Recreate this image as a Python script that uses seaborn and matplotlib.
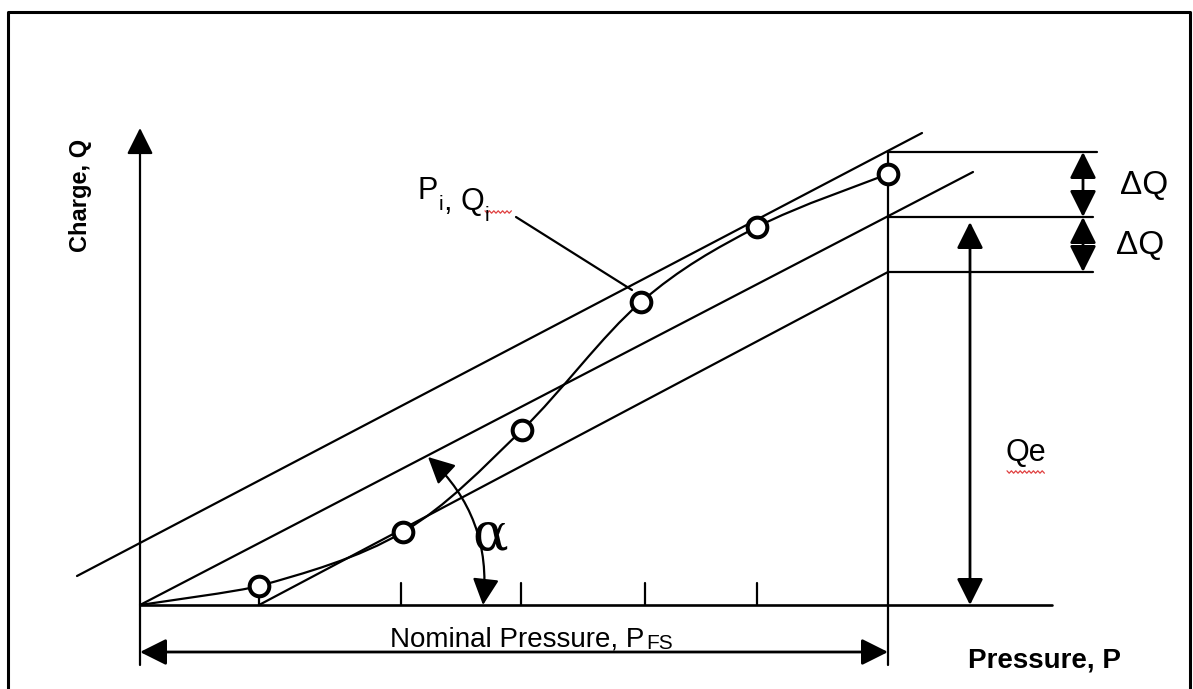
import numpy as np
import pandas as pd
import matplotlib
matplotlib.use("Agg")
import matplotlib.pyplot as plt
from matplotlib.path import Path
from matplotlib.patches import PathPatch, FancyArrowPatch
import seaborn as sns

# ---------------- data (diagram units: origin = (0, 0)) ----------------
P_points = [119, 263, 382, 501, 617, 748]        # calibration points P_i
Q_points = [19, 73, 175, 303, 378, 431]           # charge Q_i
P_ticks = [119, 261, 381, 505, 617]               # pressure steps
P_FS = 748                                        # nominal (full scale) pressure
fit_P = [0, 833]; fit_Q = [0, 433]                # best straight line
upper_P = [-63, 782]; upper_Q = [29, 472]         # upper tolerance line
lower_P = [119, 748]; lower_Q = [0, 333]          # lower tolerance line
Q_upper, Q_end, Q_lower = 453, 388, 333           # levels at P_FS

sns.set_theme(style="white")
plt.rcParams["font.family"] = ["Liberation Sans", "DejaVu Sans"]
plt.rcParams["text.color"] = "black"

fig = plt.figure(figsize=(11.93, 6.89), dpi=100)
ax = fig.add_axes([0, 0, 1, 1])
ax.set_xlim(-140, 1053)
ax.set_ylim(-84, 605)
ax.axis("off")

K = "black"
LW = 1.6

# frame
ax.plot([-132, -132, 1050, 1050], [-84, 593, 593, -84], color=K, lw=2.2)

# axes of the diagram
ax.add_patch(FancyArrowPatch((0, -60), (0, 477), arrowstyle="-|>,head_length=0.9,head_width=0.45",
                             mutation_scale=18, lw=LW, color=K, shrinkA=0, shrinkB=0))
ax.plot([0, 912], [0, 0], color=K, lw=LW + 0.3)

# ticks
for p in P_ticks:
    ax.plot([p, p], [0, 22], color=K, lw=LW)

# straight lines
df_lines = pd.DataFrame({
    "P": fit_P + upper_P + lower_P,
    "Q": fit_Q + upper_Q + lower_Q,
    "line": ["fit"] * 2 + ["upper"] * 2 + ["lower"] * 2,
})
sns.lineplot(data=df_lines, x="P", y="Q", units="line", estimator=None, color=K, lw=LW,
             ax=ax, legend=False, sort=False)

# full-scale vertical and horizontal level lines
ax.plot([P_FS, P_FS], [-60, Q_upper], color=K, lw=LW)
ax.plot([P_FS, 957], [Q_upper, Q_upper], color=K, lw=LW)
ax.plot([P_FS, 953], [Q_end, Q_end], color=K, lw=LW)
ax.plot([P_FS, 953], [Q_lower, Q_lower], color=K, lw=LW)

# smooth characteristic curve through the points (Catmull-Rom -> Bezier)
cx = [0] + P_points
cy = [0] + Q_points
pts = np.column_stack([cx, cy]).astype(float)
ext = np.vstack([2 * pts[0] - pts[1], pts, pts[-1]])
verts = [tuple(pts[0])]
codes = [Path.MOVETO]
for i in range(1, len(ext) - 2):
    p0, p1, p2, p3 = ext[i - 1], ext[i], ext[i + 1], ext[i + 2]
    tension = 6.0 if i > 1 else 14.0
    c1 = p1 + (p2 - p0) / tension
    c2 = p2 - (p3 - p1) / tension
    verts += [tuple(c1), tuple(c2), tuple(p2)]
    codes += [Path.CURVE4] * 3
ax.add_patch(PathPatch(Path(verts, codes), fill=False, lw=LW, color=K))

# measurement points
sns.scatterplot(x=P_points, y=Q_points, marker="o", s=200, facecolor="white",
                edgecolor=K, linewidth=2.9, ax=ax, zorder=5)

# double arrows
def darrow(a, b, lw=2.0):
    ax.add_patch(FancyArrowPatch(a, b, arrowstyle="<|-|>,head_length=0.9,head_width=0.45",
                                 mutation_scale=18, lw=lw, color=K, shrinkA=0, shrinkB=0))

darrow((943, Q_upper), (943, Q_end))
darrow((943, Q_end), (943, Q_lower))
darrow((830, Q_end - 5), (830, 0))
darrow((0, -47), (P_FS, -47))

# angle alpha
ax.add_patch(FancyArrowPatch((288, 148), (343, 0), arrowstyle="<|-|>,head_length=0.9,head_width=0.45",
                             connectionstyle="arc3,rad=-0.25", mutation_scale=18, lw=LW,
                             color=K, shrinkA=0, shrinkB=0))
ax.text(350, 70, "α", fontsize=38, family=["DejaVu Serif"], ha="center", va="center", color=K)

# leader for P_i, Q_i
ax.plot([376, 492], [388, 315], color=K, lw=LW)

# spell-check squiggles
def squiggle(x0, x1, y):
    xs = np.arange(x0, x1, 2.2)
    ys = y + np.where(np.arange(len(xs)) % 2 == 0, 1.2, -1.2)
    ax.plot(xs, ys, color="#e04040", lw=0.9)

# texts
ax.text(-60, 410, "Charge, Q", rotation=90, fontsize=17, fontweight="bold", ha="center", va="center")
ax.text(828, -55, "Pressure, P", fontsize=20, fontweight="bold", ha="left", va="center")

t1 = ax.text(250, -42, "Nominal Pressure, P", fontsize=20, ha="left", va="baseline")
ax.annotate("FS", xy=(1, 0), xycoords=t1, xytext=(1, 0), textcoords="offset points",
            fontsize=15, ha="left", va="bottom")

ax.text(1004, 420, "ΔQ", fontsize=24, ha="center", va="center")
ax.text(1000, 360, "ΔQ", fontsize=24, ha="center", va="center")
ax.text(886, 152, "Qe", fontsize=22, ha="center", va="center")
squiggle(867, 906, 133)

pa = ax.text(278, 406, "P", fontsize=22, ha="left", va="baseline")
pb = ax.annotate("i", xy=(1, 0), xycoords=pa, xytext=(0.5, -3), textcoords="offset points",
                 fontsize=15, ha="left", va="baseline")
pc = ax.annotate(", Q", xy=(1, 0), xycoords=pb, xytext=(0, 3), textcoords="offset points",
                 fontsize=22, ha="left", va="baseline")
pd_ = ax.annotate("i", xy=(1, 0), xycoords=pc, xytext=(0.5, -3), textcoords="offset points",
                  fontsize=15, ha="left", va="baseline")
squiggle(345, 372, 393)

fig.savefig("out.png", dpi=100)
